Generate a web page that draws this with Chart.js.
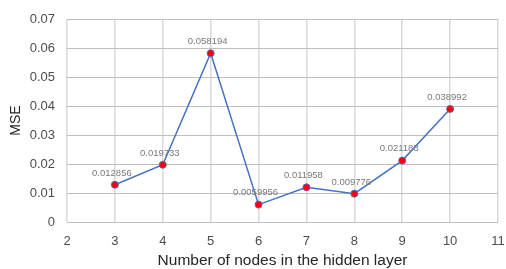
<!DOCTYPE html>
<html>
<head>
<meta charset="utf-8">
<script src="https://cdn.jsdelivr.net/npm/chart.js@4.4.0/dist/chart.umd.min.js"></script>
<style>
  body { margin: 0; background: #fff; }
  #wrap { width: 506px; height: 269px; }
</style>
</head>
<body>
<div id="wrap"><canvas id="mseChart" width="506" height="269"></canvas></div>
<script>
// nodes in hidden layer vs MSE
var nodes = [3, 4, 5, 6, 7, 8, 9, 10];
var mse = [0.012856, 0.019733, 0.058194, 0.0059956, 0.011958, 0.009776, 0.021183, 0.038992];
var yTicks = [0, 0.01, 0.02, 0.03, 0.04, 0.05, 0.06, 0.07];

var points = nodes.map(function (n, i) { return { x: n, y: mse[i] }; });

// draws the value above each point, like excel data labels
var valueLabels = {
  id: 'valueLabels',
  afterDatasetsDraw: function (chart) {
    var ctx = chart.ctx;
    var meta = chart.getDatasetMeta(0);
    ctx.save();
    ctx.font = '9.5px "Liberation Sans", Arial, sans-serif';
    ctx.fillStyle = '#7a7a7a';
    ctx.textAlign = 'center';
    ctx.textBaseline = 'bottom';
    meta.data.forEach(function (pt, i) {
      ctx.fillText(String(mse[i]), pt.x - 3, pt.y - 7);
    });
    ctx.restore();
  }
};

var ctx = document.getElementById('mseChart').getContext('2d');
var chart = new Chart(ctx, {
  type: 'line',
  data: {
    datasets: [{
      data: points,
      borderColor: '#4472c4',
      borderWidth: 1.5,
      pointBackgroundColor: '#ff0000',
      pointBorderColor: '#4472c4',
      pointBorderWidth: 1,
      pointRadius: 3.5,
      tension: 0
    }]
  },
  options: {
    responsive: false,
    animation: false,
    layout: { padding: { top: 19, right: 0, left: 0, bottom: 0 } },
    plugins: { legend: { display: false }, tooltip: { enabled: false } },
    scales: {
      x: {
        type: 'linear',
        min: 2,
        max: 11,
        ticks: { stepSize: 1, color: '#4d4d4d', font: { size: 13, family: 'Liberation Sans' }, padding: 12 },
        grid: { color: '#d9d9d9', lineWidth: 1.5, drawTicks: false },
        border: { display: false },
        title: { display: true, text: 'Number of nodes in the hidden layer', color: '#262626', font: { size: 15.5, family: 'Liberation Sans' }, padding: { top: 8, bottom: -1 } },
        afterFit: function (s) { s.height = 47; s.paddingRight = 8; s.paddingLeft = 0; }
      },
      y: {
        min: 0,
        max: 0.07,
        afterBuildTicks: function (s) { s.ticks = yTicks.map(function (v) { return { value: v }; }); },
        ticks: { color: '#4d4d4d', font: { size: 13, family: 'Liberation Sans' }, padding: 12,
          callback: function (v) { return v === 0 ? '0' : v.toFixed(2); } },
        grid: { color: '#bfbfbf', lineWidth: 1, drawTicks: false },
        border: { display: false },
        title: { display: true, text: 'MSE', color: '#262626', font: { size: 14, family: 'Liberation Sans' }, padding: { top: 8, bottom: 0 } },
        afterFit: function (s) { s.width = 67; s.paddingTop = 0; s.paddingBottom = 0; }
      }
    }
  },
  plugins: [valueLabels]
});
</script>
</body>
</html>
